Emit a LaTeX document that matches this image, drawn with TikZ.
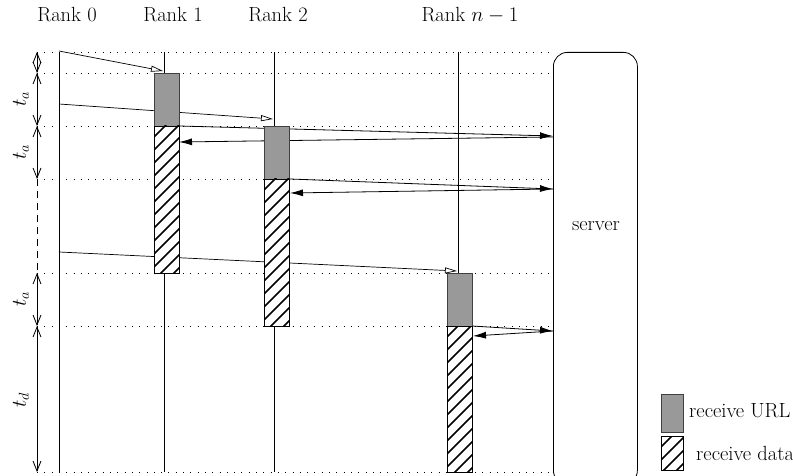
\documentclass[tikz,border=0pt]{standalone}
\usepackage{fontspec}
\usetikzlibrary{arrows.meta,calc}
\newcommand\hatchfill[2]{%
  \begin{scope}
    \clip (#1.north west) rectangle (#1.south east);
    \foreach \k in {0,...,#2}{
      \draw[hatchline] ($(#1.north west)+(-6,13*\k+4)$) -- ++(50,-50);
    }
  \end{scope}
  \draw[line width=0.8pt] (#1.north west) rectangle (#1.south east);
}
\begin{document}
\begin{tikzpicture}[x=1pt,y=-1pt, font=\fontsize{20.5}{24}\selectfont,
  life/.style={line width=0.8pt},
  gridline/.style={line width=0.9pt, dash pattern=on 1pt off 6.3pt},
  urlbox/.style={draw=black!75, fill=black!40, line width=0.8pt, inner sep=0pt, anchor=north west},
  databox/.style={fill=white, inner sep=0pt, anchor=north west},
  hatchline/.style={line width=1.5pt},
  req/.style={line width=0.7pt, -{Triangle[open,length=12pt,width=6pt]}},
  msg/.style={line width=0.8pt, -{Latex[length=13pt,width=7pt]}},
  tarr/.style={line width=0.8pt, {Straight Barb[length=10pt,width=8pt]}-{Straight Barb[length=10pt,width=8pt]}},
  tlab/.style={rotate=90},
]
\useasboundingbox (0,0) rectangle (793,476);

% titles
\node (t0) at (67,15) {Rank 0};
\node (t1) at (173,15) {Rank 1};
\node (t2) at (278,15) {Rank 2};
\node (t3) at (470,15) {Rank $n-1$};

% horizontal dotted time lines
\foreach \y/\n in {52/a,73/b,126/c,179/d,273/e,326/f,472/g}{
  \coordinate (gl\n) at (37,\y);
  \coordinate (gr\n) at (553,\y);
  \draw[gridline] (gl\n) -- (gr\n);
}

% lifelines
\coordinate (l0t) at (59,52);  \coordinate (l0b) at (59,472);
\coordinate (l1t) at (164,52); \coordinate (l1b) at (164,472);
\coordinate (l2t) at (274,52); \coordinate (l2b) at (274,472);
\coordinate (l3t) at (458,52); \coordinate (l3b) at (458,472);
\draw[life] (l0t) -- (l0b);
\draw[life] (l1t) -- (l1b);
\draw[life] (l2t) -- (l2b);
\draw[life] (l3t) -- (l3b);

% requests from rank 0
\coordinate (s1) at (59,51);  \coordinate (e1) at (163,71);
\coordinate (s2) at (59,104); \coordinate (e2) at (273,119);
\coordinate (s3) at (59,252); \coordinate (e3) at (457,271);
\draw[req] (s1) -- (e1);
\draw[req] (s2) -- (e2);
\draw[req] (s3) -- (e3);

% server exchanges
\coordinate (o1) at (179,126); \coordinate (sv1) at (553,136);
\coordinate (sv1b) at (553,137); \coordinate (i1) at (179,142);
\coordinate (o2) at (290,179); \coordinate (sv2) at (553,189);
\coordinate (sv2b) at (553,189); \coordinate (i2) at (290,193);
\coordinate (o3) at (472,326); \coordinate (sv3) at (553,331);
\coordinate (sv3b) at (553,331); \coordinate (i3) at (473,336);
\draw[msg] (o1) -- (sv1);
\draw[msg] (sv1b) -- (i1);
\draw[msg] (o2) -- (sv2);
\draw[msg] (sv2b) -- (i2);
\draw[msg] (o3) -- (sv3);
\draw[msg] (sv3b) -- (i3);

% activity boxes
\node[urlbox, minimum width=25pt, minimum height=53pt] (u1) at (154,73) {};
\node[databox, minimum width=25pt, minimum height=147pt] (d1) at (154,126) {};
\hatchfill{d1}{14}
\node[urlbox, minimum width=25pt, minimum height=53pt] (u2) at (264,126) {};
\node[databox, minimum width=25pt, minimum height=147pt] (d2) at (264,179) {};
\hatchfill{d2}{14}
\node[urlbox, minimum width=25pt, minimum height=53pt] (u3) at (447,273) {};
\node[databox, minimum width=25pt, minimum height=146pt] (d3) at (447,326) {};
\hatchfill{d3}{14}

% server
\node[draw, line width=0.8pt, rounded corners=14pt, minimum width=84pt, minimum height=432pt,
  inner sep=0pt, anchor=north west] (server) at (553,52) {};
\node (serverlabel) at (596,226) {server};

% time intervals
\coordinate (ya) at (37,52); \coordinate (yb) at (37,73);
\coordinate (yc) at (37,126); \coordinate (yd) at (37,179);
\coordinate (ye) at (37,273); \coordinate (yf) at (37,326);
\coordinate (yg) at (37,472);
\draw[tarr] (ya) -- (yb);
\draw[tarr] (yb) -- (yc);
\draw[tarr] (yc) -- (yd);
\draw[line width=0.8pt, dash pattern=on 7pt off 5pt] (yd) -- (ye);
\draw[tarr] (ye) -- (yf);
\draw[tarr] (yf) -- (yg);
\node[tlab] (ta1) at (21,99) {$t_a$};
\node[tlab] (ta2) at (21,152) {$t_a$};
\node[tlab] (ta3) at (21,299) {$t_a$};
\node[tlab] (td) at (21,400) {$t_d$};

% legend
\node[urlbox, minimum width=22pt, minimum height=38pt] (legurl) at (661,394) {};
\node[databox, minimum width=22pt, minimum height=34pt] (legdata) at (661,436) {};
\hatchfill{legdata}{5}
\node[anchor=west, inner sep=0pt] (legurltxt) at (689,411) {receive URL};
\node[anchor=west, inner sep=0pt] (legdatatxt) at (696,453) {receive data};
\end{tikzpicture}
\end{document}
